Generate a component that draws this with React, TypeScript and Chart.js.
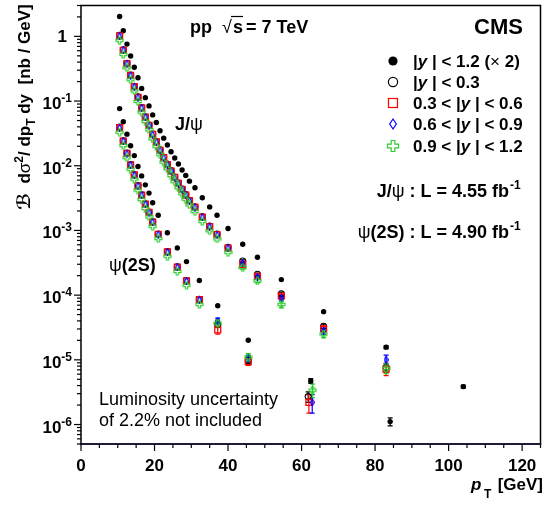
import React, { useEffect, useRef } from 'react';
import { Chart, registerables } from 'chart.js';
Chart.register(...registerables);

// ---------- J/psi ----------
const jpsiX = [10.5, 11.5, 12.5, 13.5, 14.5, 15.5, 16.5, 17.5, 18.5, 19.5, 20.5, 21.5, 22.5, 23.5, 24.5, 25.5, 26.5, 27.5, 28.5, 29.5, 31, 33, 35, 37, 40, 44, 48, 54.5, 66, 83];
const jpsiAllX = [10.5, 11.5, 12.5, 13.5, 14.5, 15.5, 16.5, 17.5, 18.5, 19.5, 20.5, 21.5, 22.5, 23.5, 24.5, 25.5, 26.5, 27.5, 28.5, 29.5, 31, 33, 35, 37, 40, 44, 48, 54.5, 66, 83, 104];
const jpsiAll = [2.03, 1.22, 0.76, 0.498, 0.334, 0.229, 0.157, 0.113, 0.0841, 0.0611, 0.0466, 0.0347, 0.0267, 0.0209, 0.0165, 0.0132, 0.01066, 0.00862, 0.00707, 0.00578, 0.00456, 0.0032, 0.00231, 0.00172, 0.00107, 0.000611, 0.000386, 0.000174, 5.56e-5, 1.57e-5, 3.86e-6];
const jpsiY03 = [1.04, 0.62, 0.385, 0.252, 0.169, 0.116, 0.0795, 0.0572, 0.0425, 0.031, 0.0236, 0.0176, 0.0135, 0.0106, 0.0084, 0.0067, 0.0054, 0.00437, 0.00358, 0.00293, 0.00232, 0.00163, 0.00117, 0.00088, 0.00055, 0.000337, 0.00021, 0.000105, 3.3e-5, 7.6e-6];
const jpsiY36 = [1.02, 0.61, 0.38, 0.249, 0.167, 0.1145, 0.0785, 0.0565, 0.042, 0.0305, 0.0233, 0.0173, 0.0133, 0.01045, 0.00825, 0.0066, 0.00533, 0.00431, 0.00353, 0.00289, 0.00228, 0.0016, 0.00115, 0.00086, 0.000535, 0.000299, 0.000195, 9.7e-5, 3.0e-5, 7.2e-6];
const jpsiY69 = [1.0, 0.605, 0.377, 0.247, 0.166, 0.1135, 0.078, 0.056, 0.0416, 0.0302, 0.0231, 0.0171, 0.0132, 0.0104, 0.0082, 0.00655, 0.0053, 0.00428, 0.0035, 0.00287, 0.00226, 0.00159, 0.00114, 0.00085, 0.00053, 0.00031, 0.00019, 9.0e-5, 2.8e-5, 1.0e-5];
const jpsiY912 = [0.87, 0.525, 0.327, 0.214, 0.144, 0.0985, 0.0675, 0.0486, 0.0361, 0.0262, 0.02, 0.0149, 0.0114, 0.009, 0.0071, 0.0057, 0.00458, 0.0037, 0.00304, 0.00249, 0.00196, 0.00138, 0.00099, 0.00074, 0.00046, 0.000267, 0.000166, 7.2e-5, 2.5e-5, 7.4e-6];
const jpsiErrAll = [0, 0, 0, 0, 0, 0, 0, 0, 0, 0, 0, 0, 0, 0, 0, 0, 0, 0, 0, 0, 0, 0, 0, 0, 0, 0, 0, 0, 0, 8e-7, 2e-7];
const jpsiErr03 = [0, 0, 0, 0, 0, 0, 0, 0, 0, 0, 0, 0, 0, 0, 0, 0, 0, 0, 0, 0, 0, 0, 0, 0, 0, 1.5e-5, 1e-5, 6e-6, 2.5e-6, 1.2e-6];
const jpsiErr36 = [0, 0, 0, 0, 0, 0, 0, 0, 0, 0, 0, 0, 0, 0, 0, 0, 0, 0, 0, 0, 0, 0, 0, 0, 0, 1.5e-5, 1e-5, 6e-6, 3e-6, 1.5e-6];
const jpsiErr69 = [0, 0, 0, 0, 0, 0, 0, 0, 0, 0, 0, 0, 0, 0, 0, 0, 0, 0, 0, 0, 0, 0, 0, 0, 0, 1.5e-5, 1e-5, 6e-6, 3e-6, 1.8e-6];
const jpsiErr912 = [0, 0, 0, 0, 0, 0, 0, 0, 0, 0, 0, 0, 0, 0, 0, 0, 0, 0, 0, 0, 0, 0, 0, 0, 0, 1.5e-5, 1e-5, 8e-6, 3e-6, 1.3e-6];

// ---------- psi(2S) ----------
const psiX = [10.5, 11.5, 12.5, 13.5, 14.5, 15.5, 16.5, 17.5, 18.5, 19.5, 21, 23.5, 26.2, 28.7, 32.2, 37.2, 45.5];
const psiXHigh = [61.8, 62.0, 62.9, 63.0]; // last bin: |y|<0.3, 0.3-0.6, 0.6-0.9, 0.9-1.2
const psiAllX = [10.5, 11.5, 12.5, 13.5, 14.5, 15.5, 16.5, 17.5, 18.5, 19.5, 21, 23.5, 26.2, 28.7, 32.2, 37.2, 45.5, 62.5, 84.1];
const psiAll = [0.0764, 0.0478, 0.0308, 0.0204, 0.01435, 0.00972, 0.00697, 0.00507, 0.00378, 0.00268, 0.00172, 0.000919, 0.000537, 0.00033, 0.000168, 6.87e-5, 2.01e-5, 4.72e-6, 1.11e-6];
const psiY03 = [0.0395, 0.0244, 0.0157, 0.0104, 0.0073, 0.00495, 0.00355, 0.00258, 0.00192, 0.00136, 0.00088, 0.00047, 0.000274, 0.000168, 8.6e-5, 3.5e-5, 9.8e-6, 2.7e-6];
const psiY36 = [0.039, 0.0241, 0.0155, 0.0103, 0.0072, 0.0049, 0.00352, 0.00256, 0.0019, 0.00135, 0.00087, 0.000465, 0.00027, 0.000166, 8.5e-5, 2.9e-5, 9.4e-6, 2.2e-6];
const psiY69 = [0.0385, 0.0239, 0.0153, 0.0102, 0.0071, 0.00485, 0.00348, 0.00253, 0.00188, 0.00134, 0.00086, 0.00046, 0.000268, 0.000165, 8.4e-5, 4.0e-5, 1.05e-5, 2.2e-6];
const psiY912 = [0.033, 0.0205, 0.0133, 0.0088, 0.0062, 0.0042, 0.003, 0.00218, 0.00162, 0.00116, 0.00075, 0.0004, 0.000232, 0.000142, 7.2e-5, 3.7e-5, 1.1e-5, 3.4e-6];
const psiErrAll = [0, 0, 0, 0, 0, 0, 0, 0, 0, 0, 0, 0, 0, 0, 0, 0, 0, 4e-7, 1.6e-7];
const psiErr03 = [0, 0, 0, 0, 0, 0, 0, 0, 0, 0, 0, 0, 0, 0, 0, 3e-6, 1.2e-6, 5e-7];
const psiErr36 = [0, 0, 0, 0, 0, 0, 0, 0, 0, 0, 0, 0, 0, 0, 0, 4e-6, 1.2e-6, 7e-7];
const psiErr69 = [0, 0, 0, 0, 0, 0, 0, 0, 0, 0, 0, 0, 0, 0, 0, 4e-6, 1.2e-6, 7e-7];
const psiErr912 = [0, 0, 0, 0, 0, 0, 0, 0, 0, 0, 0, 0, 0, 0, 0, 4e-6, 1.5e-6, 8e-7];

// ---------- axes ----------
const xTicks = [0, 20, 40, 60, 80, 100, 120];
const yDecades = [0, -1, -2, -3, -4, -5, -6];
const legendLabels = ['|y | < 1.2 (× 2)', '|y | < 0.3', '0.3 < |y | < 0.6', '0.6 < |y | < 0.9', '0.9 < |y | < 1.2'];

const RED = '#ff0000';
const BLUE = '#0000ff';
const GREEN = '#2ecc2e';
const FF = '"Liberation Sans", Arial, Helvetica, sans-serif';
const B = (p: number) => `bold ${p}px ${FF}`;
const BI = (p: number) => `italic bold ${p}px ${FF}`;
const R = (p: number) => `${p}px ${FF}`;

function makeDiamond(w: number, h: number, color: string, lw: number) {
  const c = document.createElement('canvas');
  c.width = w; c.height = h;
  const g = c.getContext('2d')!;
  g.strokeStyle = color; g.lineWidth = lw;
  g.beginPath();
  g.moveTo(w / 2, lw / 2); g.lineTo(w - lw / 2, h / 2); g.lineTo(w / 2, h - lw / 2); g.lineTo(lw / 2, h / 2);
  g.closePath(); g.stroke();
  return c;
}
function crossPath(g: CanvasRenderingContext2D, x0: number, y0: number, s: number) {
  const a = s / 3;
  const pts = [[a, 0], [2 * a, 0], [2 * a, a], [s, a], [s, 2 * a], [2 * a, 2 * a], [2 * a, s], [a, s], [a, 2 * a], [0, 2 * a], [0, a], [a, a]];
  g.beginPath();
  pts.forEach((p, i) => (i ? g.lineTo(x0 + p[0], y0 + p[1]) : g.moveTo(x0 + p[0], y0 + p[1])));
  g.closePath();
}
function makeCross(s: number, color: string, lw: number) {
  const c = document.createElement('canvas');
  c.width = s + 2; c.height = s + 2;
  const g = c.getContext('2d')!;
  g.strokeStyle = color; g.lineWidth = lw;
  crossPath(g, 1, 1, s); g.stroke();
  return c;
}

type Seg = { t: string; font: string; dy?: number };
function segWidth(ctx: CanvasRenderingContext2D, segs: Seg[]) {
  let w = 0;
  for (const s of segs) { ctx.font = s.font; w += ctx.measureText(s.t).width; }
  return w;
}
function drawSegs(ctx: CanvasRenderingContext2D, segs: Seg[], x: number, y: number) {
  let cx = x;
  for (const s of segs) {
    ctx.font = s.font;
    ctx.fillText(s.t, cx, y + (s.dy || 0));
    cx += ctx.measureText(s.t).width;
  }
  return cx;
}

const pts = (xs: number[], ys: number[]) => ys.map((y, i) => ({ x: xs[i], y }));

export default function App() {
  const ref = useRef<HTMLCanvasElement>(null);
  useEffect(() => {
    const canvas = ref.current!;
    const diamond = makeDiamond(5, 8, BLUE, 1.2);
    const cross = makeCross(7, GREEN, 1.1);

    const errPlugin = {
      id: 'errbars',
      beforeDatasetsDraw(chart: any) {
        const ctx = chart.ctx as CanvasRenderingContext2D;
        const xs = chart.scales.x, ys = chart.scales.y;
        chart.data.datasets.forEach((ds: any) => {
          if (!ds.errs) return;
          ctx.save();
          ctx.strokeStyle = ds.errColor; ctx.lineWidth = 1.2;
          ds.data.forEach((p: any, i: number) => {
            const e = ds.errs[i];
            if (!e) return;
            const px = xs.getPixelForValue(p.x);
            const y1 = ys.getPixelForValue(p.y + e);
            const y2 = ys.getPixelForValue(Math.max(p.y - e, 1e-9));
            ctx.beginPath();
            ctx.moveTo(px, y1); ctx.lineTo(px, y2);
            ctx.moveTo(px - 2.5, y1); ctx.lineTo(px + 2.5, y1);
            ctx.moveTo(px - 2.5, y2); ctx.lineTo(px + 2.5, y2);
            ctx.stroke();
          });
          ctx.restore();
        });
      },
    };

    const decor = {
      id: 'decor',
      afterDraw(chart: any) {
        const ctx = chart.ctx as CanvasRenderingContext2D;
        const a = chart.chartArea;
        const xs = chart.scales.x, ys = chart.scales.y;
        ctx.save();
        ctx.fillStyle = '#000';
        ctx.textBaseline = 'alphabetic';
        ctx.textAlign = 'left';
        // frame
        ctx.strokeStyle = '#000'; ctx.lineWidth = 1.5;
        ctx.beginPath();
        ctx.moveTo(a.left, a.bottom); ctx.lineTo(a.left, a.top); ctx.lineTo(a.right, a.top); ctx.lineTo(a.right, a.bottom);
        ctx.stroke();
        ctx.strokeStyle = '#1c1c3a'; ctx.lineWidth = 2;
        ctx.beginPath(); ctx.moveTo(a.left - 1, a.bottom); ctx.lineTo(a.right + 0.75, a.bottom); ctx.stroke();
        // x ticks
        ctx.strokeStyle = '#000'; ctx.lineWidth = 1.2;
        for (let v = 0; v <= 125; v += 5) {
          const px = xs.getPixelForValue(v);
          const major = v % 20 === 0;
          ctx.beginPath(); ctx.moveTo(px, a.bottom); ctx.lineTo(px, a.bottom + (major ? 7 : 4)); ctx.stroke();
        }
        ctx.textAlign = 'center';
        ctx.font = B(17);
        xTicks.forEach((v) => ctx.fillText(String(v), xs.getPixelForValue(v), 471));
        ctx.textAlign = 'left';
        // y ticks
        for (let d = -7; d <= 0; d++) {
          for (let m = 1; m <= 9; m++) {
            const v = m * Math.pow(10, d);
            if (v < 5e-7 || v > 3) continue;
            const py = ys.getPixelForValue(v);
            ctx.beginPath(); ctx.moveTo(a.left, py); ctx.lineTo(a.left - (m === 1 ? 7 : 4), py); ctx.stroke();
          }
        }
        yDecades.forEach((d) => {
          const py = ys.getPixelForValue(Math.pow(10, d));
          if (d === 0) {
            ctx.font = B(17); ctx.textAlign = 'right';
            ctx.fillText('1', 67, py + 6);
            ctx.textAlign = 'left';
          } else {
            const segs: Seg[] = [{ t: '10', font: B(17) }, { t: String(d), font: B(12), dy: -7 }];
            const w = segWidth(ctx, segs);
            drawSegs(ctx, segs, 72 - w, py + 8);
          }
        });
        // y title
        ctx.save();
        ctx.translate(30, 107);
        ctx.rotate(-Math.PI / 2);
        const ysegs: Seg[] = [
          { t: 'ℬ', font: `bold 18px "DejaVu Sans", ${FF}` },
          { t: '  d', font: B(17) },
          { t: 'σ', font: R(17) },
          { t: '2', font: B(12), dy: -7 },
          { t: '/ d', font: B(17) },
          { t: 'p', font: B(17) },
          { t: 'T', font: B(12), dy: 5 },
          { t: ' dy  [nb / GeV]', font: B(17) },
        ];
        drawSegs(ctx, ysegs, -segWidth(ctx, ysegs) / 2, 0);
        ctx.restore();
        // x title
        ctx.font = B(17);
        const gw = ctx.measureText('[GeV]').width;
        ctx.fillText('[GeV]', 543 - gw, 490);
        ctx.font = BI(17); ctx.fillText('p', 471, 490);
        ctx.font = B(12); ctx.fillText('T', 484, 498);
        // pp sqrt(s)
        ctx.font = B(18);
        ctx.textAlign = 'right'; ctx.fillText('pp', 212, 33); ctx.textAlign = 'left';
        ctx.font = R(18); ctx.fillText('√', 222, 33);
        ctx.lineWidth = 1.2;
        ctx.beginPath(); ctx.moveTo(231, 16.5); ctx.lineTo(243, 16.5); ctx.stroke();
        ctx.font = B(18); ctx.fillText('s', 233, 33);
        ctx.fillText('= 7 TeV', 246, 33);
        // CMS
        ctx.font = B(22); ctx.textAlign = 'right'; ctx.fillText('CMS', 523, 34); ctx.textAlign = 'left';
        // legend
        const rows = [61, 82, 103, 124, 146];
        const lx = 393;
        ctx.lineWidth = 1.2;
        ctx.fillStyle = '#000';
        ctx.beginPath(); ctx.arc(lx, rows[0], 4.6, 0, Math.PI * 2); ctx.fill();
        ctx.strokeStyle = '#000'; ctx.beginPath(); ctx.arc(lx, rows[1], 4.6, 0, Math.PI * 2); ctx.stroke();
        ctx.strokeStyle = RED; ctx.strokeRect(lx - 4.5, rows[2] - 4.5, 9, 9);
        ctx.strokeStyle = BLUE; ctx.beginPath();
        ctx.moveTo(lx, rows[3] - 5); ctx.lineTo(lx + 3.3, rows[3]); ctx.lineTo(lx, rows[3] + 5); ctx.lineTo(lx - 3.3, rows[3]); ctx.closePath(); ctx.stroke();
        ctx.strokeStyle = GREEN; crossPath(ctx, lx - 5.5, rows[4] - 5.5, 11); ctx.stroke();
        legendLabels.forEach((lab, i) => {
          const segs: Seg[] = [];
          const parts = lab.split('y');
          segs.push({ t: parts[0], font: B(17) });
          segs.push({ t: 'y', font: BI(17) });
          const rest = parts[1];
          if (rest.includes('×')) {
            const [r1, r2] = rest.split('×');
            segs.push({ t: r1, font: B(17) }, { t: '×', font: R(17) }, { t: r2, font: B(17) });
          } else segs.push({ t: rest, font: B(17) });
          drawSegs(ctx, segs, 413, rows[i] + 6);
        });
        // luminosities
        const l1: Seg[] = [{ t: 'J/', font: B(18) }, { t: 'ψ', font: R(18) }, { t: ' : L = 4.55 fb', font: B(18) }];
        const l2: Seg[] = [{ t: 'ψ', font: R(18) }, { t: '(2S) : L = 4.90 fb', font: B(18) }];
        const w1 = segWidth(ctx, l1), w2 = segWidth(ctx, l2);
        drawSegs(ctx, l1, 509 - w1, 197);
        drawSegs(ctx, [{ t: '-1', font: B(12) }], 510, 189);
        drawSegs(ctx, l2, 509 - w2, 238);
        drawSegs(ctx, [{ t: '-1', font: B(12) }], 510, 230);
        // curve labels
        drawSegs(ctx, [{ t: 'J/', font: B(18) }, { t: 'ψ', font: R(18) }], 175, 130);
        drawSegs(ctx, [{ t: 'ψ', font: R(18) }, { t: '(2S)', font: B(18) }], 109, 271);
        // luminosity note
        ctx.font = R(18);
        ctx.fillText('Luminosity uncertainty', 99, 405);
        ctx.fillText('of 2.2% not included', 99, 426);
        ctx.restore();
      },
    };

    const mk = (label: string, data: any[], errs: number[], style: any, order: number) => ({
      label, data, errs, order, showLine: false, ...style,
    });
    const blackStyle = { pointStyle: 'circle', pointRadius: 2.7, backgroundColor: '#000', borderColor: '#000', borderWidth: 0, errColor: '#000' };
    const circStyle = { pointStyle: 'circle', pointRadius: 3, backgroundColor: 'rgba(0,0,0,0)', borderColor: '#000', borderWidth: 1.1, errColor: '#000' };
    const redStyle = { pointStyle: 'rect', pointRadius: 4.2, backgroundColor: 'rgba(0,0,0,0)', borderColor: RED, borderWidth: 1.3, errColor: RED };
    const blueStyle = { pointStyle: diamond, pointRadius: 4, backgroundColor: 'rgba(0,0,0,0)', borderColor: BLUE, errColor: BLUE };
    const greenStyle = { pointStyle: cross, pointRadius: 4, backgroundColor: 'rgba(0,0,0,0)', borderColor: GREEN, errColor: GREEN };

    const chart = new Chart(canvas, {
      type: 'scatter',
      data: {
        datasets: [
          mk('jpsi all', pts(jpsiAllX, jpsiAll), jpsiErrAll, blackStyle, 4),
          mk('psi all', pts(psiAllX, psiAll), psiErrAll, blackStyle, 4),
          mk('jpsi 0-0.3', pts(jpsiX, jpsiY03), jpsiErr03, circStyle, 3),
          mk('psi 0-0.3', pts([...psiX, psiXHigh[0]], psiY03), psiErr03, circStyle, 3),
          mk('jpsi 0.3-0.6', pts(jpsiX, jpsiY36), jpsiErr36, redStyle, 2),
          mk('psi 0.3-0.6', pts([...psiX, psiXHigh[1]], psiY36), psiErr36, redStyle, 2),
          mk('jpsi 0.6-0.9', pts(jpsiX, jpsiY69), jpsiErr69, blueStyle, 1),
          mk('psi 0.6-0.9', pts([...psiX, psiXHigh[2]], psiY69), psiErr69, blueStyle, 1),
          mk('jpsi 0.9-1.2', pts(jpsiX, jpsiY912), jpsiErr912, greenStyle, 0),
          mk('psi 0.9-1.2', pts([...psiX, psiXHigh[3]], psiY912), psiErr912, greenStyle, 0),
        ] as any,
      },
      options: {
        responsive: false,
        animation: false,
        events: [],
        layout: { padding: { left: 81, top: 2, right: 2, bottom: 63 } },
        scales: {
          x: { type: 'linear', min: 0, max: 125, display: false },
          y: { type: 'logarithmic', min: 5e-7, max: 3, display: false },
        },
        plugins: { legend: { display: false }, tooltip: { enabled: false } },
      },
      plugins: [errPlugin, decor],
    });
    return () => chart.destroy();
  }, []);
  return (
    <div style={{ position: 'absolute', left: 0, top: 0, width: 546, height: 507, background: '#fff' }}>
      <canvas ref={ref} width={546} height={507} style={{ display: 'block' }} />
    </div>
  );
}
